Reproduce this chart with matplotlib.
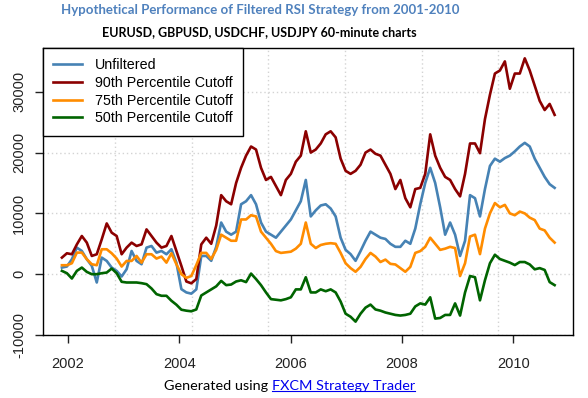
import matplotlib
matplotlib.use("Agg")
import matplotlib.pyplot as plt
import numpy as np
from matplotlib.lines import Line2D

# sampled roughly every 0.09 yr from late 2001 to Sep 2010
years = np.linspace(2001.89, 2010.74, 100)

unfiltered = [
    1090, 1260, 2460, 4370, 3820, 2460, 1365, -1365, 2730, 2180, 1090, 546, -380,
    820, 3820, 2180, 1640, 4370, 4640, 3550, 3820, 3280, 4100, 1900, -2460,
    -3000, -3200, -2500, 3000, 3000, 2200, 4500, 8500, 7000, 6500, 7000, 11500,
    12000, 13000, 11500, 8500, 7000, 6500, 6000, 7000, 8000, 9000, 10500, 12000,
    15500, 9500, 10500, 11300, 11500, 10800, 9500, 6000, 4000, 3300, 2200, 3800,
    5500, 7000, 6500, 6000, 5800, 5000, 4500, 4500, 5500, 5000, 7500, 11500,
    15000, 17500, 15000, 11000, 6500, 8500, 6500, 3000, 5500, 13000, 12500, 9500,
    14000, 17800, 19000, 18500, 19100, 19500, 20200, 21000, 21600, 21000, 19000,
    17500, 16000, 14800, 14200,
]
cutoff_90 = [
    2730, 3440, 3280, 4900, 6280, 5190, 3000, 3280, 5730, 8350, 6830, 6280, 3280,
    4370, 5190, 4640, 4910, 7370, 6280, 5190, 4370, 4640, 6280, 3820, 1365,
    -1200, -1500, -800, 4900, 6000, 5000, 8000, 13000, 12000, 11500, 15000, 17500,
    19500, 21000, 20500, 17500, 15500, 16000, 14500, 13000, 15500, 16500, 18500, 19500,
    23500, 20000, 20500, 21500, 23000, 23500, 22500, 19000, 17000, 16500, 17000,
    18000, 20000, 20500, 19800, 19500, 18000, 16500, 14000, 15500, 12500, 11000,
    14000, 14200, 16500, 23000, 19500, 17500, 16000, 15500, 14000, 12800, 16500,
    21500, 21500, 19900, 25500, 29500, 33000, 33500, 35000, 30500, 33000, 33000,
    35500, 33500, 31000, 28500, 27000, 28000, 26200,
]
cutoff_75 = [
    1475, 1475, 1800, 3550, 3550, 2460, 1640, 1475, 4100, 4100, 3440, 2570, 1260,
    2180, 2180, 3000, 1900, 3280, 3280, 2570, 2900, 1900, 3440, 1640, 0,
    -600, -300, 1500, 3500, 3500, 2500, 4000, 6500, 6000, 5500, 5500, 9000,
    9000, 9700, 9500, 7000, 6000, 5000, 3800, 3500, 3600, 3700, 4200, 5000,
    8500, 5000, 4300, 4800, 5000, 5100, 5000, 3500, 1800, 1000, 400, 1200,
    2500, 3500, 2900, 2000, 2400, 1700, 1600, 1000, 400, 1200, 3500, 3800,
    4500, 6000, 5000, 4000, 4200, 4500, 4300, -300, 1800, 6200, 6500, 3300,
    7500, 10000, 11700, 11000, 11400, 10000, 9700, 10300, 10000, 9300, 8900,
    7500, 7200, 6000, 5200,
]
cutoff_50 = [
    546, 160, -710, 550, 1090, 380, 0, 0, 160, 270, 930, 160, -1250,
    -1365, -1365, -1365, -1475, -1640, -2350, -3280, -3550, -3550, -4370, -5020, -5840,
    -6000, -6100, -5800, -3500, -3000, -2500, -2000, -1100, -1800, -1700, -1200, -1000,
    -1300, 100, -800, -1800, -3000, -4100, -4200, -4300, -4100, -3800, -2500, -2500,
    -500, -3000, -3000, -2500, -2800, -2500, -3000, -4500, -6500, -7000, -7800,
    -6500, -5500, -5000, -5800, -6000, -6300, -6500, -6700, -6800, -6700, -6500,
    -5300, -4800, -5000, -3800, -7300, -7200, -6700, -6700, -4800, -6800, -3000,
    -300, -500, -4300, -1000, 1800, 3200, 2500, 2200, 1900, 1500, 2000, 2000,
    1600, 800, 1000, 700, -1300, -1800,
]

series_labels = ["Unfiltered", "90th Percentile Cutoff",
                 "75th Percentile Cutoff", "50th Percentile Cutoff"]
series_colors = ["steelblue", "darkred", "darkorange", "darkgreen"]

year_ticks = [2002, 2004, 2006, 2008, 2010]
value_ticks = [-10000, 0, 10000, 20000, 30000]
grid_years = [2002.84, 2004.22, 2005.59, 2006.97, 2008.35, 2009.72]

W, H = 588, 398
fig = plt.figure(figsize=(W / 100, H / 100), dpi=100)
ax = fig.add_axes([43 / W, 1 - 335 / H, 530 / W, 287 / H])

for gx in grid_years:
    ax.axvline(gx, color="#d3d3d3", lw=1, ls=(0, (1, 2)), zorder=0)
for gy in value_ticks:
    ax.axhline(gy, color="#d3d3d3", lw=1, ls=(0, (1, 2)), zorder=0)

for vals, lab, col in zip([unfiltered, cutoff_90, cutoff_75, cutoff_50],
                          series_labels, series_colors):
    ax.plot(years, vals, color=col, lw=1.9, label=lab)

ax.set_xlim(2001.55, 2011.07)
ax.set_ylim(-10000, 37200)

tick_font = dict(family="Liberation Sans", size=10.5, color="#222222")
ax.set_xticks(year_ticks)
ax.set_xticklabels([str(y) for y in year_ticks], **tick_font)
ax.set_yticks(value_ticks)
ax.set_yticklabels([str(v) for v in value_ticks], rotation=90, va="center", **tick_font)
ax.tick_params(axis="both", direction="out", length=6, width=1, color="#222222")
ax.tick_params(axis="x", pad=10)
ax.tick_params(axis="y", pad=6)

for side in ["left", "bottom", "top"]:
    ax.spines[side].set_linewidth(1)
ax.spines["right"].set_linestyle((0, (1, 1)))
ax.spines["right"].set_linewidth(1)

leg = ax.legend(loc="upper left", bbox_to_anchor=(0, 1), borderaxespad=0,
                fancybox=False, framealpha=1, edgecolor="black",
                prop=dict(family="Liberation Sans", size=10.3),
                handlelength=2.0, handletextpad=0.9, labelspacing=0.26,
                borderpad=0.72)
leg.get_frame().set_linewidth(1)

fig.text(260 / W, 1 - 10 / H, "Hypothetical Performance of Filtered RSI Strategy from 2001-2010",
         ha="center", va="center", family="Lato", weight="bold", size=9.5, color="#4f81bd")
fig.text(259 / W, 1 - 32 / H, "EURUSD, GBPUSD, USDCHF, USDJPY 60-minute charts",
         ha="center", va="center", family="Lato", weight="bold", size=9.0, color="black")

t1 = fig.text(164 / W, 1 - 386 / H, "Generated using", ha="left", va="center",
              family="Lato", size=10.4, color="black")
fig.canvas.draw()
r = fig.canvas.get_renderer()
bb1 = t1.get_window_extent(r)
t2 = fig.text((bb1.x1 + 4) / W, 1 - 386 / H, "FXCM Strategy Trader", ha="left", va="center",
              family="Lato", size=10.4, color="#0000ee")
bb2 = t2.get_window_extent(r)
uy = bb2.y0 + 1
fig.add_artist(Line2D([bb2.x0 / W, bb2.x1 / W], [uy / H, uy / H], color="#0000ee", lw=0.8))

fig.savefig("out.png", dpi=100)
